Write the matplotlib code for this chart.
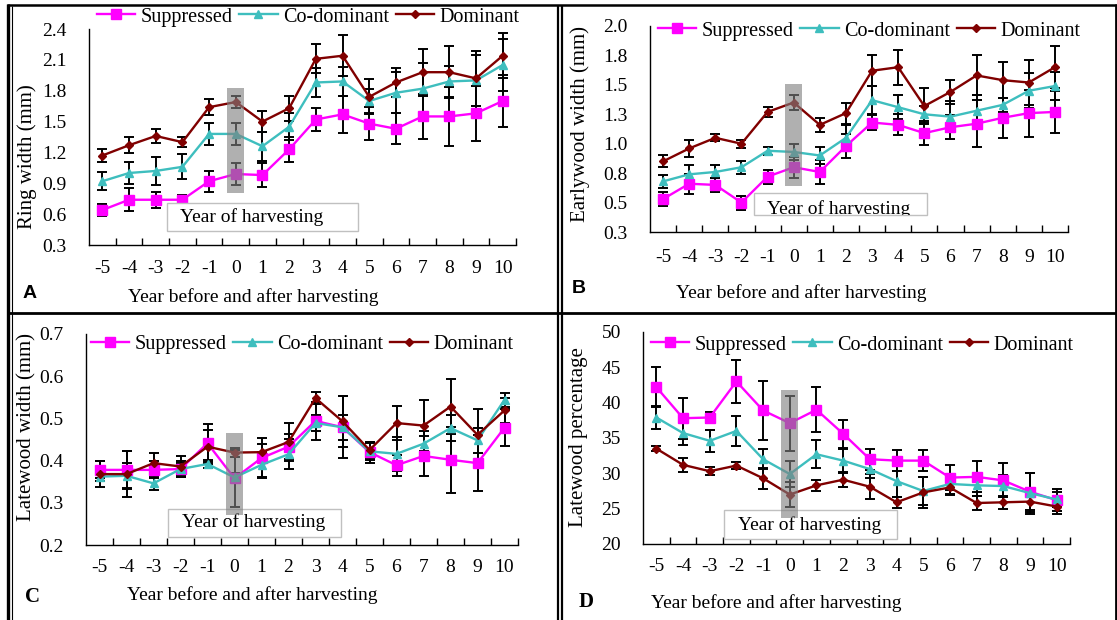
import numpy as np
import matplotlib
matplotlib.use("Agg")
import matplotlib.pyplot as plt
from matplotlib.patches import Rectangle
from matplotlib.lines import Line2D

# ---------------- data ----------------
years = ['-5', '-4', '-3', '-2', '-1', '0', '1', '2', '3', '4', '5', '6', '7', '8', '9', '10']
series_names = ['Suppressed', 'Co-dominant', 'Dominant']

# A: ring width (mm)
sup_A = [0.64, 0.74, 0.74, 0.74, 0.92, 0.99, 0.98, 1.23, 1.52, 1.57, 1.48, 1.43, 1.55, 1.55, 1.58, 1.70]
sup_A_err = [0.06, 0.11, 0.08, 0.05, 0.10, 0.11, 0.12, 0.12, 0.11, 0.18, 0.16, 0.15, 0.22, 0.29, 0.27, 0.25]
cod_A = [0.92, 1.00, 1.02, 1.06, 1.38, 1.38, 1.26, 1.45, 1.88, 1.89, 1.70, 1.78, 1.82, 1.89, 1.90, 2.05]
cod_A_err = [0.09, 0.11, 0.14, 0.12, 0.11, 0.11, 0.14, 0.13, 0.14, 0.14, 0.12, 0.20, 0.25, 0.15, 0.25, 0.25]
dom_A = [1.17, 1.27, 1.36, 1.30, 1.64, 1.69, 1.50, 1.63, 2.11, 2.14, 1.74, 1.88, 1.98, 1.98, 1.92, 2.14]
dom_A_err = [0.065, 0.08, 0.065, 0.05, 0.08, 0.055, 0.10, 0.12, 0.14, 0.20, 0.17, 0.14, 0.23, 0.25, 0.27, 0.22]
yticks_A = [0.3, 0.6, 0.9, 1.2, 1.5, 1.8, 2.1, 2.4]
ylabels_A = ['0.3', '0.6', '0.9', '1.2', '1.5', '1.8', '2.1', '2.4']

# B: earlywood width (mm)
sup_B = [0.53, 0.66, 0.65, 0.50, 0.72, 0.80, 0.76, 0.98, 1.18, 1.16, 1.09, 1.14, 1.17, 1.22, 1.26, 1.27]
sup_B_err = [0.06, 0.085, 0.06, 0.06, 0.06, 0.09, 0.10, 0.10, 0.06, 0.09, 0.10, 0.10, 0.20, 0.17, 0.20, 0.18]
cod_B = [0.68, 0.74, 0.76, 0.80, 0.94, 0.93, 0.90, 1.05, 1.37, 1.31, 1.25, 1.23, 1.28, 1.33, 1.45, 1.49]
cod_B_err = [0.055, 0.08, 0.055, 0.055, 0.035, 0.07, 0.07, 0.11, 0.12, 0.10, 0.07, 0.13, 0.13, 0.06, 0.15, 0.12]
dom_B = [0.85, 0.96, 1.05, 1.00, 1.27, 1.35, 1.16, 1.26, 1.62, 1.65, 1.32, 1.44, 1.58, 1.54, 1.52, 1.65]
dom_B_err = [0.05, 0.07, 0.03, 0.035, 0.04, 0.06, 0.06, 0.09, 0.13, 0.15, 0.15, 0.10, 0.17, 0.15, 0.19, 0.18]
yticks_B = [0.25, 0.5, 0.75, 1.0, 1.25, 1.5, 1.75, 2.0]
ylabels_B = ['0.3', '0.5', '0.8', '1.0', '1.3', '1.5', '1.8', '2.0']

# C: latewood width (mm)
sup_C = [0.378, 0.378, 0.378, 0.380, 0.441, 0.358, 0.406, 0.433, 0.494, 0.479, 0.420, 0.389, 0.411, 0.402, 0.394, 0.478]
sup_C_err = [0.02, 0.045, 0.02, 0.02, 0.045, 0.068, 0.047, 0.03, 0.045, 0.073, 0.025, 0.025, 0.047, 0.078, 0.067, 0.044]
cod_C = [0.362, 0.364, 0.346, 0.380, 0.392, 0.360, 0.390, 0.415, 0.489, 0.479, 0.422, 0.416, 0.440, 0.477, 0.448, 0.544]
cod_C_err = [0.01, 0.03, 0.016, 0.015, 0.01, 0.01, 0.03, 0.036, 0.02, 0.03, 0.02, 0.04, 0.03, 0.03, 0.03, 0.016]
dom_C = [0.368, 0.368, 0.394, 0.386, 0.433, 0.419, 0.420, 0.444, 0.548, 0.493, 0.425, 0.489, 0.483, 0.528, 0.461, 0.519]
dom_C_err = [0.03, 0.055, 0.025, 0.025, 0.04, 0.01, 0.02, 0.045, 0.014, 0.06, 0.02, 0.04, 0.06, 0.066, 0.062, 0.03]
yticks_C = [0.2, 0.3, 0.4, 0.5, 0.6, 0.7]
ylabels_C = ['0.2', '0.3', '0.4', '0.5', '0.6', '0.7']

# D: latewood percentage
sup_D = [42.2, 37.8, 37.9, 43.0, 38.9, 37.1, 39.0, 35.6, 32.0, 31.8, 31.8, 29.4, 29.5, 29.0, 27.4, 26.2]
sup_D_err = [2.8, 2.9, 0.8, 3.1, 4.2, 3.9, 3.2, 2.0, 1.5, 1.5, 1.5, 1.8, 2.2, 2.4, 2.6, 1.6]
cod_D = [37.9, 35.7, 34.6, 36.0, 32.0, 29.9, 32.7, 31.8, 30.6, 28.9, 27.5, 28.5, 28.3, 28.2, 27.2, 26.3]
cod_D_err = [1.6, 1.7, 1.6, 2.1, 1.4, 1.8, 2.0, 1.6, 1.3, 2.2, 2.0, 1.4, 1.5, 1.6, 2.9, 1.1]
dom_D = [33.5, 31.2, 30.3, 31.1, 29.3, 27.0, 28.3, 29.1, 28.1, 25.9, 27.3, 28.0, 25.8, 25.9, 26.0, 25.3]
dom_D_err = [0.3, 1.0, 0.6, 0.45, 1.5, 1.8, 0.8, 1.0, 1.8, 0.8, 2.2, 1.0, 1.0, 0.9, 1.5, 1.1]
yticks_D = [20, 25, 30, 35, 40, 45, 50]
ylabels_D = ['20', '25', '30', '35', '40', '45', '50']

ylabel_texts = ['Ring width (mm)', 'Earlywood width (mm)', 'Latewood width (mm)', 'Latewood percentage']
panel_letters = ['A', 'B', 'C', 'D']
xlabel_text = 'Year before and after harvesting'
harvest_text = 'Year of harvesting'
harvest_year = '0'
harvest_span_A = (0.81, 1.83)
harvest_span_B = (0.64, 1.51)
harvest_span_C = (0.27, 0.465)
harvest_span_D = (23.7, 41.8)

# ---------------- style ----------------
plt.rcParams['font.family'] = ['Liberation Serif', 'DejaVu Serif']
W, H = 1117, 620
fig = plt.figure(figsize=(W / 100, H / 100), dpi=100)
FS = 14

colors = ['#FF00FF', '#3EBEBE', '#800000']
markers = ['s', '^', 'D']
msizes = [6.5, 6, 3.8]


def fx(x):
    return x / W


def fy(y):
    return 1 - y / H


def rect(l, t, r, b):
    return [l / W, 1 - b / H, (r - l) / W, (b - t) / H]


panels = [
    dict(rect=(89, 29, 516, 245), ylim=(0.3, 2.4), yt=yticks_A, yl=ylabels_A,
         data=[(sup_A, sup_A_err), (cod_A, cod_A_err), (dom_A, dom_A_err)],
         span=harvest_span_A, leg=(97, 17), box=(167, 203, 358, 231), btxt=(180, 217),
         ylab=(27, 157), xlab=(253, 297), letter=(30, 293), lfont='sans', xpad=11),
    dict(rect=(650, 26, 1068, 232), ylim=(0.25, 2.0), yt=yticks_B, yl=ylabels_B,
         data=[(sup_B, sup_B_err), (cod_B, cod_B_err), (dom_B, dom_B_err)],
         span=harvest_span_B, leg=(658, 31), box=(754, 193, 927, 215), btxt=(767, 209),
         ylab=(580, 124), xlab=(801, 293), letter=(579, 288), lfont='sans', xpad=12),
    dict(rect=(86, 334, 518, 545), ylim=(0.2, 0.7), yt=yticks_C, yl=ylabels_C,
         data=[(sup_C, sup_C_err), (cod_C, cod_C_err), (dom_C, dom_C_err)],
         span=harvest_span_C, leg=(91, 344), box=(168, 509, 341, 537), btxt=(182, 522),
         ylab=(27, 427), xlab=(252, 595), letter=(32, 597), lfont='serif', xpad=10),
    dict(rect=(643, 332, 1070, 544), ylim=(20, 50), yt=yticks_D, yl=ylabels_D,
         data=[(sup_D, sup_D_err), (cod_D, cod_D_err), (dom_D, dom_D_err)],
         span=harvest_span_D, leg=(651, 345), box=(724, 510, 897, 539), btxt=(738, 525),
         ylab=(578, 437), xlab=(776, 603), letter=(586, 602), lfont='serif', xpad=10),
]

for i, p in enumerate(panels):
    ax = fig.add_axes(rect(*p['rect']))
    xpos = np.arange(len(years))
    for (vals, err), name, c, m, ms in zip(p['data'], series_names, colors, markers, msizes):
        ax.errorbar(xpos, vals, yerr=err, fmt='none', ecolor='black', elinewidth=1.4,
                    capsize=3.6, capthick=1.4, zorder=2)
        ax.plot(xpos, vals, color=c, marker=m, markersize=ms, lw=1.7, label=name,
                markeredgecolor=c, zorder=3)
    hx = years.index(harvest_year)
    lo, hi = p['span']
    ax.add_patch(Rectangle((hx - 0.32, lo), 0.64, hi - lo, facecolor='#808080',
                           alpha=0.62, edgecolor='none', zorder=6, clip_on=False))
    # "Year of harvesting" box
    l, t, r, b = p['box']
    bx = Rectangle((fx(l), fy(b)), (r - l) / W, (b - t) / H, transform=fig.transFigure,
                   facecolor='white', edgecolor='#c0c0c0', lw=1.0, zorder=4, clip_on=False)
    ax.add_patch(bx)
    tt = ax.text(fx(p['btxt'][0]), fy(p['btxt'][1]), harvest_text, transform=fig.transFigure,
                 ha='left', va='center', fontsize=FS, zorder=5, clip_on=True)
    tt.set_clip_path(bx)

    ax.set_xlim(-0.5, len(years) - 0.5)
    ax.set_ylim(*p['ylim'])
    ax.set_xticks(xpos)
    ax.set_xticklabels(years, fontsize=FS)
    ax.set_xticks(np.arange(0.5, len(years), 1.0), minor=True)
    ax.set_yticks(p['yt'])
    ax.set_yticklabels(p['yl'], fontsize=FS)
    ax.tick_params(axis='x', which='major', length=0, pad=p['xpad'])
    ax.tick_params(axis='x', which='minor', direction='in', length=5, width=1, color='black')
    ax.tick_params(axis='y', which='both', length=0, pad=16)
    for s in ['top', 'right']:
        ax.spines[s].set_visible(False)
    for s in ['left', 'bottom']:
        ax.spines[s].set_linewidth(1.0)
        ax.spines[s].set_color('black')
    ax.patch.set_alpha(0)

    ax.legend(loc='center left', bbox_to_anchor=(fx(p['leg'][0]), fy(p['leg'][1])),
              bbox_transform=fig.transFigure, ncol=3, frameon=False, handlelength=1.9,
              handletextpad=0.25, columnspacing=0.35, borderpad=0, borderaxespad=0,
              numpoints=1, fontsize=14.5)

    fig.text(fx(p['ylab'][0]), fy(p['ylab'][1]), ylabel_texts[i], rotation=90,
             ha='center', va='center', fontsize=15)
    fig.text(fx(p['xlab'][0]), fy(p['xlab'][1]), xlabel_text, ha='center', va='center',
             fontsize=FS)
    if p['lfont'] == 'sans':
        fig.text(fx(p['letter'][0]), fy(p['letter'][1]), panel_letters[i], ha='center',
                 va='center', fontsize=FS, fontweight='bold', family='Liberation Sans')
    else:
        fig.text(fx(p['letter'][0]), fy(p['letter'][1]), panel_letters[i], ha='center',
                 va='center', fontsize=FS + 1, fontweight='bold')

# ---------------- panel frame lines ----------------
def hline(y, x1, x2, lw):
    fig.add_artist(Line2D([fx(x1), fx(x2)], [fy(y), fy(y)], color='black', lw=lw,
                          transform=fig.transFigure, solid_capstyle='butt'))


def vline(x, y1, y2, lw):
    fig.add_artist(Line2D([fx(x), fx(x)], [fy(y1), fy(y2)], color='black', lw=lw,
                          transform=fig.transFigure, solid_capstyle='butt'))

vline(8, 4, 620, 2.4)
vline(11.5, 6, 620, 0.8)
hline(5, 7, 1117, 1.8)
vline(1115.5, 4, 620, 2.0)
vline(558, 5, 620, 1.6)
vline(562, 5, 620, 1.6)
hline(313, 7, 1117, 2.0)

fig.savefig('out.png', dpi=100)
